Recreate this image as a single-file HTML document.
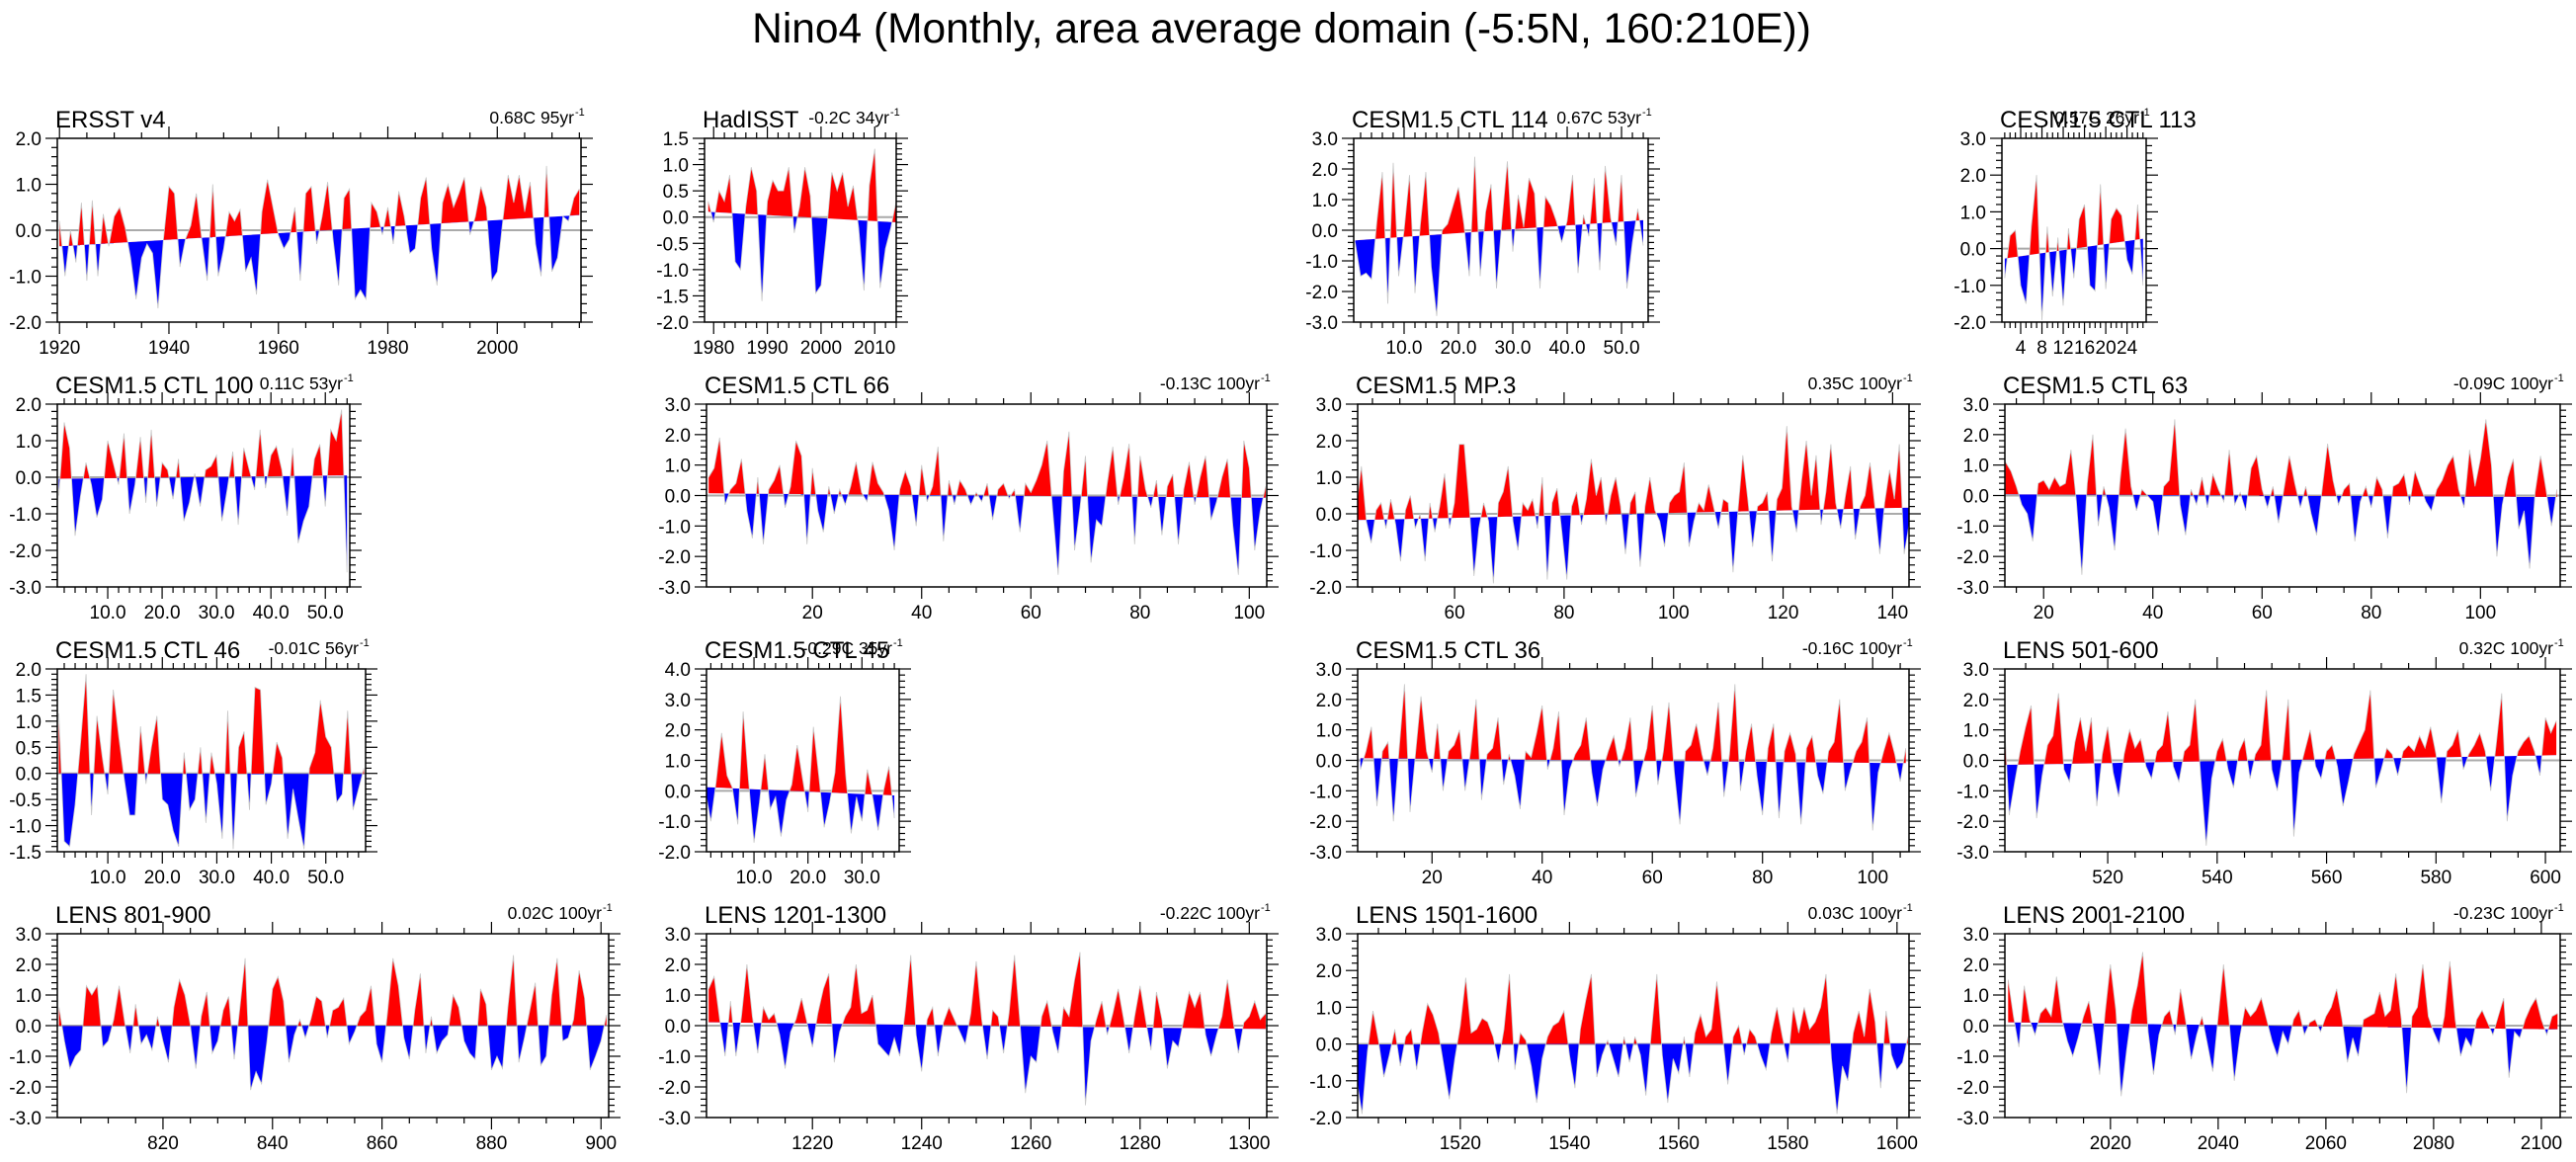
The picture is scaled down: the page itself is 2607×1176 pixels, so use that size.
<!DOCTYPE html>
<html>
<head>
<meta charset="utf-8">
<title>Nino4 Monthly area average</title>
<style>
html,body{margin:0;padding:0;background:#fff;}
svg{display:block;}
text{font-family:"Liberation Sans",Arial,sans-serif;fill:#000;}
</style>
</head>
<body>
<svg id="chart" xmlns="http://www.w3.org/2000/svg" width="2607" height="1176" viewBox="0 0 2607 1176">
<rect x="0" y="0" width="2607" height="1176" fill="#fff"/>
<text x="1297" y="43" font-size="42.5" text-anchor="middle">Nino4 (Monthly, area average domain (-5:5N, 160:210E))</text>
</svg>
<script>
// ---- data (annual-resolution readings of each series) ----
const ersstStart = 1920;
const ersstValues = [0.2,-1.0,0.0,-0.7,0.6,-1.1,0.65,-1.0,0.35,-0.35,0.3,0.5,0.05,-0.6,-1.5,-0.6,-0.3,-0.5,-1.7,-0.2,0.95,0.8,-0.8,-0.2,0.1,0.8,-0.2,-1.1,1.0,-1.0,-0.4,0.4,0.2,0.45,-0.9,-0.6,-1.4,0.4,1.1,0.5,-0.1,-0.4,-0.2,0.5,-1.1,0.8,0.95,-0.3,0.3,1.05,-0.2,-1.2,0.7,0.9,-1.5,-1.3,-1.5,0.6,0.4,-0.1,0.5,-0.3,0.85,0.3,-0.5,-0.4,0.7,1.15,-0.4,-1.2,0.6,1.0,0.5,0.8,1.15,-0.1,0.3,0.95,0.5,-1.1,-0.9,0.2,1.2,0.6,1.2,0.4,1.05,-0.3,-1.0,1.4,-0.9,-0.6,0.3,0.2,0.7,0.9];
const hadStart = 1979;
const hadValues = [0.3,-0.1,0.5,0.3,0.8,-0.85,-1.0,0.2,0.95,0.5,-1.6,0.3,0.7,0.5,0.5,0.95,-0.3,0.2,0.95,0.4,-1.45,-1.3,-0.3,0.85,0.5,0.85,0.2,0.6,-0.2,-1.4,0.6,1.3,-1.35,-0.6,-0.2,0.3];
const ctl114Start = 1;
const ctl114Values = [-0.4,-1.5,-1.4,-1.6,0.3,1.9,-2.4,2.2,-1.5,0.0,1.8,-2.05,0.2,1.9,-1.2,-2.8,0.0,0.2,0.8,1.4,0.2,-1.5,2.4,-1.5,0.6,1.5,-1.9,0.3,2.25,-0.7,1.15,0.1,1.7,1.2,-1.9,1.1,0.8,0.3,-0.4,0.3,1.8,-1.4,0.5,-0.2,1.7,-1.3,2.1,0.4,-0.5,1.8,-1.9,-0.4,0.7,-0.5];
const ctl113Start = 1;
const ctl113Values = [-0.8,0.35,0.5,-1.0,-1.5,0.6,2.0,-1.95,0.6,-1.3,0.3,-1.55,0.55,-0.8,0.8,1.2,-1.0,-1.15,1.75,-1.1,0.8,1.1,0.9,-0.3,-0.7,1.2,-1.0];
const ctl100Start = 1;
const ctl100Values = [-0.5,1.5,0.8,-1.6,-0.5,0.4,-0.2,-1.1,-0.6,1.0,0.4,-0.2,1.2,-1.0,-0.2,1.1,-0.7,1.3,-0.8,0.4,0.2,-0.6,0.5,-1.2,-0.7,0.1,-0.8,0.2,0.3,0.6,-1.2,-0.3,0.7,-1.3,0.8,0.2,-0.35,1.3,-0.3,0.6,0.85,0.2,-1.05,0.8,-1.8,-1.2,-0.8,0.5,0.9,-0.8,1.3,1.0,1.85,-2.6];
const ctl66Start = 1;
const ctl66Values = [0.6,0.9,1.9,-0.3,0.2,0.4,1.2,-0.5,-1.4,0.6,-1.6,0.2,0.5,1.0,-0.4,0.3,1.8,1.3,-1.6,0.9,-0.5,-1.2,0.3,-0.6,0.2,-0.3,0.3,1.1,0.1,-0.2,1.1,0.4,0.1,-0.5,-1.8,0.2,0.8,0.3,-1.0,1.0,-0.2,0.3,1.6,-1.5,0.5,-0.3,0.5,0.2,-0.3,0.1,-0.2,0.4,-0.8,0.2,0.4,-0.1,0.2,-1.2,0.4,0.1,0.5,1.0,1.8,-0.5,-2.6,0.8,2.1,-1.8,-0.4,1.3,-2.2,-0.8,-1.0,0.4,1.6,-0.3,0.6,1.7,-1.6,1.3,0.2,-0.4,0.5,-1.3,0.3,0.7,-1.6,0.2,1.1,-0.3,0.6,1.3,-0.8,-0.2,0.6,1.2,-1.0,-2.6,1.8,0.9,-1.8,-0.5,0.3];
const mp3Start = 42.1;
const mp3Step = 0.893;
const mp3Values = [0.2,1.3,-0.2,-0.8,0.1,0.3,-0.4,0.4,-0.3,-1.3,0.1,0.5,-0.4,0.0,-1.3,0.3,-0.5,0.2,1.1,-0.4,0.3,1.9,1.9,0.3,-1.7,-0.4,0.3,-0.2,-1.9,0.3,0.6,1.3,-0.2,-1.0,0.3,0.1,0.4,-0.4,1.0,-1.8,0.3,0.7,-0.5,-1.8,0.2,0.6,-0.3,0.4,1.5,0.5,1.0,-0.3,0.5,1.0,0.2,-1.1,0.3,0.6,-1.45,0.2,1.0,0.1,-0.2,-0.9,0.3,0.5,0.6,1.4,-0.9,-0.2,0.3,0.1,0.8,0.2,-0.4,0.4,0.3,-1.6,0.1,1.6,0.4,-0.9,0.2,0.3,0.6,-1.3,0.4,0.7,2.4,0.2,-0.5,0.9,2.0,0.5,1.6,-0.3,0.6,1.9,0.3,-0.4,0.5,1.3,-0.7,0.2,0.5,1.4,0.2,-1.1,0.3,1.2,0.4,1.9,-1.1,-0.3];
const ctl63Start = 13;
const ctl63Values = [1.1,0.8,0.3,-0.3,-0.6,-1.5,0.4,0.5,0.2,0.6,0.3,0.4,1.5,-0.2,-2.6,0.4,2.0,-1.0,0.3,-0.4,-1.8,0.5,2.2,0.3,-0.5,0.2,0.0,-0.2,-1.3,0.3,0.5,2.5,-0.3,-1.3,0.2,-0.3,0.6,-0.4,0.7,0.2,-0.2,1.5,-0.3,0.1,-0.5,0.9,1.3,0.2,-0.4,0.3,-0.9,0.2,1.3,0.4,-0.4,0.3,-0.6,-1.3,0.2,1.7,0.5,-0.3,0.2,0.4,-1.5,-0.2,0.3,-0.4,0.6,0.2,-1.4,0.3,0.4,0.7,-0.3,0.8,0.3,-0.2,-0.5,0.2,0.5,1.0,1.3,0.2,-0.4,1.5,0.3,1.2,2.5,1.0,-2.0,-0.3,0.6,1.2,-1.1,-0.5,-2.4,0.1,1.3,0.2,-1.0,0.2];
const ctl46Start = 1;
const ctl46Values = [1.15,-1.3,-1.4,-0.6,0.6,1.9,-0.8,1.1,0.3,-0.4,1.6,0.7,-0.1,-0.8,-0.8,0.9,-0.2,0.5,1.1,-0.5,-0.6,-1.1,-1.4,0.4,-0.7,-0.5,0.5,-0.95,0.4,-0.2,-1.25,1.2,-1.45,0.5,0.8,-0.7,1.65,1.6,-0.6,-0.2,0.6,0.3,-1.25,-0.3,-0.9,-1.45,0.1,0.4,1.4,0.7,0.5,-0.55,-0.4,1.2,-0.7,-0.3,0.1];
const ctl45Start = 1;
const ctl45Values = [0.0,-1.0,0.3,1.9,0.5,0.1,-1.1,2.6,0.3,-1.7,-0.4,1.2,-0.6,-0.2,-1.5,-0.3,0.2,1.5,0.4,-0.7,2.1,0.5,-1.2,-0.4,0.6,3.1,0.5,-1.4,-0.2,-1.0,0.7,-0.2,-1.3,0.0,0.8,-0.9];
const ctl36Start = 7;
const ctl36Values = [-0.3,0.3,1.1,-1.5,0.3,0.6,-2.0,0.3,2.5,-1.7,0.2,2.1,0.3,-0.4,1.2,-1.0,0.3,0.5,1.0,-1.0,0.3,2.0,-1.3,0.2,0.4,1.4,-0.8,0.2,-0.5,-1.6,0.3,0.1,0.9,1.8,-0.3,0.4,1.6,-1.8,-0.3,0.2,0.5,1.4,-0.4,-1.5,-0.3,0.3,0.8,-0.2,0.4,1.4,-1.2,-0.3,0.4,1.8,-0.8,0.3,1.9,-0.4,-2.1,0.3,0.5,1.2,0.2,-0.5,0.4,1.9,-1.2,0.2,2.5,-1.0,0.3,1.2,-0.5,-1.8,0.4,1.2,-1.9,0.3,0.9,0.2,-2.1,0.4,0.8,-0.5,-1.1,0.3,0.6,2.0,-1.0,-0.3,0.3,0.6,1.4,-2.3,-0.4,0.3,0.9,0.2,-0.7,0.4];
const lens501Start = 501;
const lens501Values = [1.7,-1.8,-0.7,0.3,1.1,1.8,-1.9,-0.5,0.5,0.8,2.2,-0.3,-0.7,0.6,1.4,0.3,1.4,-1.5,0.2,1.1,-0.4,-1.2,0.2,1.0,0.4,0.7,-0.2,-0.6,0.3,0.5,1.6,-0.2,-0.7,0.3,0.5,2.0,-0.5,-2.8,-0.6,0.3,0.7,-0.3,-0.9,0.3,0.7,-0.6,0.2,0.5,2.3,-0.3,-1.0,0.2,2.0,-2.5,-0.4,0.3,1.0,-0.2,-0.6,0.3,0.5,-0.2,-1.5,-0.7,0.2,0.6,1.0,2.3,-0.9,-0.3,0.4,0.2,-0.5,0.3,0.5,0.3,0.8,0.4,1.1,0.2,-1.4,0.3,0.5,1.0,-0.3,0.2,0.5,0.9,0.3,-1.0,0.5,2.2,-2.0,-0.5,0.3,0.6,0.8,0.3,-0.5,1.4,0.9,1.3];
const lens801Start = 801;
const lens801Values = [0.6,-0.5,-1.4,-1.0,-0.8,1.3,1.0,1.3,-0.7,-0.5,0.2,1.3,0.1,-0.9,0.7,-0.6,-0.3,-0.8,0.3,-0.5,-1.2,0.6,1.5,1.0,0.0,-1.4,0.3,1.1,-0.9,-0.5,0.5,0.95,-1.1,0.5,2.2,-2.1,-1.5,-1.9,-0.5,1.2,1.6,0.8,-1.2,-0.3,0.2,-0.4,0.2,0.95,0.8,-0.4,0.5,0.6,0.9,-0.6,-0.2,0.3,0.5,1.3,-0.6,-1.2,0.4,2.2,1.3,-0.4,-1.1,0.5,1.7,-0.9,0.3,-0.9,-0.5,-0.3,1.0,0.6,-0.5,-0.9,-1.1,1.2,0.7,-1.45,-1.0,-1.4,0.6,2.3,-1.2,-0.4,0.5,1.4,-1.3,-1.0,1.0,2.2,-0.5,-0.4,0.2,1.8,0.9,-1.45,-1.0,-0.5,0.35];
const lens1201Start = 1201;
const lens1201Values = [1.2,1.6,0.2,-1.0,0.8,-1.0,0.3,2.0,0.3,-0.9,0.6,0.2,0.4,-0.3,-1.4,-0.2,0.2,0.9,0.1,-0.7,0.4,1.2,1.7,-1.2,-0.2,0.3,0.6,2.0,0.4,0.5,1.0,-0.6,-0.8,-1.0,-0.4,-1.0,0.5,2.3,-0.3,-1.5,0.2,0.6,-1.0,0.1,0.6,0.2,-0.2,-0.6,0.4,2.1,0.2,-1.1,0.5,0.3,-0.9,0.4,2.3,0.1,-2.2,-1.0,-1.2,0.3,0.8,-0.2,-0.9,0.6,0.3,1.5,2.4,-2.6,-0.5,0.2,0.8,-0.3,0.4,1.2,0.2,-0.9,0.3,1.3,0.2,-0.8,1.1,0.2,-1.4,-0.5,-0.7,0.2,1.1,0.6,1.1,-0.3,-1.0,-0.3,0.3,1.5,0.2,-0.9,0.1,0.3,0.8,0.2,0.4];
const lens1501Start = 1501;
const lens1501Values = [-0.9,-1.9,-0.2,0.9,0.1,-0.9,-0.3,0.4,-0.6,0.2,0.4,-0.7,0.3,1.1,0.8,0.3,-0.6,-1.5,-0.4,0.5,1.8,0.3,0.4,0.7,0.6,0.2,-0.5,0.4,1.9,-0.7,0.3,0.1,-0.6,-1.6,-0.4,0.2,0.5,0.6,0.9,-0.3,-1.2,0.4,1.2,1.9,-0.9,-0.3,0.1,-0.4,-0.9,0.2,-0.5,0.2,-0.3,-1.4,0.3,1.9,-0.3,-1.6,-0.4,-0.8,0.2,-0.9,0.3,0.8,0.2,0.4,1.7,0.3,-1.1,0.2,0.5,-0.3,0.4,0.2,-0.3,-0.7,0.3,1.0,0.2,-0.5,1.0,0.3,1.0,0.4,0.6,1.0,1.9,-0.4,-1.9,-0.6,-1.0,0.3,0.9,0.2,1.5,0.6,-1.2,0.9,-0.3,-0.7,-0.5,0.2];
const lens2001Start = 2001;
const lens2001Values = [1.5,0.3,-0.7,1.3,0.2,-0.3,0.4,0.6,0.3,1.6,0.2,-0.5,-1.0,-0.4,0.3,0.8,-0.3,-1.6,0.4,2.0,0.5,-2.3,-0.8,0.5,1.3,2.4,-0.2,-1.6,-0.3,0.3,0.5,-0.3,1.2,0.1,-1.1,-0.3,0.3,-0.6,-1.5,0.3,2.0,0.2,-1.8,-0.4,0.6,0.3,0.5,0.9,0.2,-0.5,-1.0,-0.2,-0.6,0.2,0.5,-0.3,0.1,0.2,-0.2,0.3,0.6,1.2,0.2,-1.2,-0.4,-1.0,0.2,0.3,0.4,1.1,0.3,0.5,1.7,0.2,-2.2,0.3,0.6,2.0,0.3,-0.2,-0.6,0.3,2.1,0.2,-1.0,-0.4,-0.7,0.2,0.5,0.1,-0.3,0.3,0.9,-1.7,-0.2,-0.4,0.2,0.6,0.9,0.2,-0.3,0.3,0.4];
// trend lines (value at start, value at end of record)
const ersstTrend = [-0.35, 0.33];
const hadTrend = [0.1, -0.1];
const ctl114Trend = [-0.33, 0.33];
const ctl113Trend = [-0.27, 0.27];
const ctl100Trend = [-0.04, 0.05];
const ctl66Trend = [0.07, -0.07];
const mp3Trend = [-0.17, 0.17];
const ctl63Trend = [0.04, -0.05];
const ctl46Trend = [0.0, -0.01];
const ctl45Trend = [0.12, -0.15];
const ctl36Trend = [0.07, -0.09];
const lens501Trend = [-0.15, 0.17];
const lens801Trend = [-0.01, 0.01];
const lens1201Trend = [0.11, -0.11];
const lens1501Trend = [-0.01, 0.02];
const lens2001Trend = [0.11, -0.12];

// ---- layout ----
const NS = 'http://www.w3.org/2000/svg';
const svg = document.getElementById('chart');
const R = [[140,326],[409,594],[677,862],[945,1131]];
const panels = [
 {id:'ersst',title:'ERSST v4',trendTxt:'0.68C 95yr',row:0,x0:58,x1:588,t0:1919.6,t1:2015.3,ymin:-2,ymax:2,ymaj:1,ymin2:0.2,xs:1920,xe:2000,xstep:20,xminor:5,xdec:0,vals:ersstValues,start:ersstStart,step:1,tr:ersstTrend},
 {id:'hadisst',title:'HadISST',trendTxt:'-0.2C 34yr',row:0,x0:713,x1:907,t0:1978.3,t1:2014.0,ymin:-2,ymax:1.5,ymaj:0.5,ymin2:0.1,xs:1980,xe:2010,xstep:10,xminor:2,xdec:0,vals:hadValues,start:hadStart,step:1,tr:hadTrend},
 {id:'ctl114',title:'CESM1.5 CTL 114',trendTxt:'0.67C 53yr',row:0,x0:1370,x1:1668,t0:0.73,t1:54.9,ymin:-3,ymax:3,ymaj:1,ymin2:0.2,xs:10,xe:50,xstep:10,xminor:2,xdec:1,vals:ctl114Values,start:ctl114Start,step:1,tr:ctl114Trend},
 {id:'ctl113',title:'CESM1.5 CTL 113',trendTxt:'0.57C 26yr',row:0,x0:2026,x1:2172,t0:0.47,t1:27.6,ymin:-2,ymax:3,ymaj:1,ymin2:0.2,xs:4,xe:24,xstep:4,xminor:1,xdec:0,vals:ctl113Values,start:ctl113Start,step:1,tr:ctl113Trend},
 {id:'ctl100',title:'CESM1.5 CTL 100',trendTxt:'0.11C 53yr',row:1,x0:58,x1:354,t0:0.73,t1:54.5,ymin:-3,ymax:2,ymaj:1,ymin2:0.2,xs:10,xe:50,xstep:10,xminor:2,xdec:1,vals:ctl100Values,start:ctl100Start,step:1,tr:ctl100Trend},
 {id:'ctl66',title:'CESM1.5 CTL 66',trendTxt:'-0.13C 100yr',row:1,x0:715,x1:1282,t0:0.6,t1:103.2,ymin:-3,ymax:3,ymaj:1,ymin2:0.2,xs:20,xe:100,xstep:20,xminor:5,xdec:0,vals:ctl66Values,start:ctl66Start,step:1,tr:ctl66Trend},
 {id:'mp3',title:'CESM1.5 MP.3',trendTxt:'0.35C 100yr',row:1,x0:1374,x1:1932,t0:42.3,t1:143.0,ymin:-2,ymax:3,ymaj:1,ymin2:0.2,xs:60,xe:140,xstep:20,xminor:5,xdec:0,vals:mp3Values,start:mp3Start,step:mp3Step,tr:mp3Trend},
 {id:'ctl63',title:'CESM1.5 CTL 63',trendTxt:'-0.09C 100yr',row:1,x0:2029,x1:2591,t0:12.9,t1:114.6,ymin:-3,ymax:3,ymaj:1,ymin2:0.2,xs:20,xe:100,xstep:20,xminor:5,xdec:0,vals:ctl63Values,start:ctl63Start,step:1,tr:ctl63Trend},
 {id:'ctl46',title:'CESM1.5 CTL 46',trendTxt:'-0.01C 56yr',row:2,x0:58,x1:370,t0:0.73,t1:57.3,ymin:-1.5,ymax:2,ymaj:0.5,ymin2:0.1,xs:10,xe:50,xstep:10,xminor:2,xdec:1,vals:ctl46Values,start:ctl46Start,step:1,tr:ctl46Trend},
 {id:'ctl45',title:'CESM1.5 CTL 45',trendTxt:'-0.29C 35yr',row:2,x0:715,x1:910,t0:1.2,t1:36.9,ymin:-2,ymax:4,ymaj:1,ymin2:0.2,xs:10,xe:30,xstep:10,xminor:2,xdec:1,vals:ctl45Values,start:ctl45Start,step:1,tr:ctl45Trend},
 {id:'ctl36',title:'CESM1.5 CTL 36',trendTxt:'-0.16C 100yr',row:2,x0:1374,x1:1932,t0:6.5,t1:106.6,ymin:-3,ymax:3,ymaj:1,ymin2:0.2,xs:20,xe:100,xstep:20,xminor:5,xdec:0,vals:ctl36Values,start:ctl36Start,step:1,tr:ctl36Trend},
 {id:'lens501',title:'LENS 501-600',trendTxt:'0.32C 100yr',row:2,x0:2029,x1:2591,t0:501.2,t1:602.7,ymin:-3,ymax:3,ymaj:1,ymin2:0.2,xs:520,xe:600,xstep:20,xminor:5,xdec:0,vals:lens501Values,start:lens501Start,step:1,tr:lens501Trend},
 {id:'lens801',title:'LENS 801-900',trendTxt:'0.02C 100yr',row:3,x0:58,x1:616,t0:800.7,t1:901.4,ymin:-3,ymax:3,ymaj:1,ymin2:0.2,xs:820,xe:900,xstep:20,xminor:5,xdec:0,vals:lens801Values,start:lens801Start,step:1,tr:lens801Trend},
 {id:'lens1201',title:'LENS 1201-1300',trendTxt:'-0.22C 100yr',row:3,x0:715,x1:1282,t0:1200.6,t1:1303.2,ymin:-3,ymax:3,ymaj:1,ymin2:0.2,xs:1220,xe:1300,xstep:20,xminor:5,xdec:0,vals:lens1201Values,start:lens1201Start,step:1,tr:lens1201Trend},
 {id:'lens1501',title:'LENS 1501-1600',trendTxt:'0.03C 100yr',row:3,x0:1374,x1:1932,t0:1501.2,t1:1602.2,ymin:-2,ymax:3,ymaj:1,ymin2:0.2,xs:1520,xe:1600,xstep:20,xminor:5,xdec:0,vals:lens1501Values,start:lens1501Start,step:1,tr:lens1501Trend},
 {id:'lens2001',title:'LENS 2001-2100',trendTxt:'-0.23C 100yr',row:3,x0:2029,x1:2591,t0:2000.4,t1:2103.5,ymin:-3,ymax:3,ymaj:1,ymin2:0.2,xs:2020,xe:2100,xstep:20,xminor:5,xdec:0,vals:lens2001Values,start:lens2001Start,step:1,tr:lens2001Trend}
];

function mk(tag, attrs, parent){
  const e = document.createElementNS(NS, tag);
  for (const k in attrs) e.setAttribute(k, attrs[k]);
  parent.appendChild(e);
  return e;
}

let defs = mk('defs', {}, svg);

panels.forEach((p, pi) => {
  const top = R[p.row][0], bot = R[p.row][1];
  const xS = t => p.x0 + (t - p.t0) / (p.t1 - p.t0) * (p.x1 - p.x0);
  const yS = v => bot - (v - p.ymin) / (p.ymax - p.ymin) * (bot - top);
  const g = mk('g', {}, svg);
  
  

  const n = p.vals.length;
  const tFirst = p.start, tLast = p.start + (n - 1) * p.step;
  const trendAt = t => p.tr[0] + (t - tFirst) / (tLast - tFirst) * (p.tr[1] - p.tr[0]);

  const cpA = mk('clipPath', {id: 'ca' + pi}, defs);
  mk('polygon', {points: `${p.x0},${top} ${p.x1},${top} ${p.x1},${yS(trendAt(p.t1))} ${p.x0},${yS(trendAt(p.t0))}`}, cpA);
  const cpB = mk('clipPath', {id: 'cb' + pi}, defs);
  mk('polygon', {points: `${p.x0},${bot} ${p.x1},${bot} ${p.x1},${yS(trendAt(p.t1))} ${p.x0},${yS(trendAt(p.t0))}`}, cpB);
  const cpP = mk('clipPath', {id: 'cp' + pi}, defs);
  mk('rect', {x: p.x0, y: top, width: p.x1 - p.x0, height: bot - top}, cpP);

  let pts = [];
  for (let i = 0; i < n; i++) {
    const t = p.start + i * p.step;
    pts.push(xS(t).toFixed(1) + ',' + yS(p.vals[i]).toFixed(1));
  }
  const areaPts = pts.concat([xS(tLast).toFixed(1) + ',' + yS(trendAt(tLast)).toFixed(1), xS(tFirst).toFixed(1) + ',' + yS(trendAt(tFirst)).toFixed(1)]).join(' ');

  const pg = mk('g', {'clip-path': `url(#cp${pi})`}, g);
  const zl = mk('line', {x1: p.x0, x2: p.x1, y1: yS(0), y2: yS(0), stroke: '#aaaaaa', 'stroke-width': 2}, pg);
  
  
  const ga = mk('g', {'clip-path': `url(#ca${pi})`}, pg);
  const red = mk('polygon', {points: areaPts, fill: '#ff0000', stroke: 'none'}, ga);
  
  
  const gb = mk('g', {'clip-path': `url(#cb${pi})`}, pg);
  const blue = mk('polygon', {points: areaPts, fill: '#0000ff', stroke: 'none'}, gb);
  
  
  const ln = mk('polyline', {points: pts.join(' '), fill: 'none', stroke: '#c8c8c8', 'stroke-width': 0.8}, pg);
  
  

  const fr = mk('rect', {x: p.x0, y: top, width: p.x1 - p.x0, height: bot - top, fill: 'none', stroke: '#000', 'stroke-width': 1.5}, g);
  
  

  const yt = mk('g', {stroke: '#000', 'stroke-width': 1.2}, g);
  
  
  const nMin = Math.round((p.ymax - p.ymin) / p.ymin2);
  for (let k = 0; k <= nMin; k++) {
    const v = p.ymin + k * p.ymin2;
    const y = yS(v);
    const isMaj = Math.abs(v / p.ymaj - Math.round(v / p.ymaj)) < 1e-6;
    const L = isMaj ? 12 : 6;
    mk('line', {x1: p.x0 - L, x2: p.x0, y1: y, y2: y}, yt);
    mk('line', {x1: p.x1, x2: p.x1 + L, y1: y, y2: y}, yt);
    if (isMaj) {
      const lb = mk('text', {x: p.x0 - 16, y: y + 7, 'font-size': 19, 'text-anchor': 'end', stroke: 'none'}, g);
      lb.textContent = v.toFixed(1);
      
      
    }
  }
  const xt = mk('g', {stroke: '#000', 'stroke-width': 1.2}, g);
  
  
  const mStart = Math.ceil(p.t0 / p.xminor) * p.xminor;
  for (let t = mStart; t <= p.t1 + 1e-9; t += p.xminor) {
    const x = xS(t);
    const isMaj = Math.abs((t - p.xs) / p.xstep - Math.round((t - p.xs) / p.xstep)) < 1e-6;
    const L = isMaj ? 12 : 6;
    mk('line', {x1: x, x2: x, y1: top - L, y2: top}, xt);
    mk('line', {x1: x, x2: x, y1: bot, y2: bot + L}, xt);
  }
  for (let t = p.xs; t <= p.xe + 1e-9; t += p.xstep) {
    const lb = mk('text', {x: xS(t), y: bot + 32, 'font-size': 19, 'text-anchor': 'middle'}, g);
    lb.textContent = t.toFixed(p.xdec);
    
    
  }
  const tt = mk('text', {x: p.x0 - 2, y: top - 11, 'font-size': 24}, g);
  tt.textContent = p.title;
  
  
  const tr = mk('text', {x: p.x1 - 7, y: top - 15, 'font-size': 17.5, 'text-anchor': 'end'}, g);
  tr.textContent = p.trendTxt;
  
  
  const sup = mk('text', {x: p.x1 - 6, y: top - 23, 'font-size': 11}, g);
  sup.textContent = '-1';
  
  
});
</script>
</body>
</html>
